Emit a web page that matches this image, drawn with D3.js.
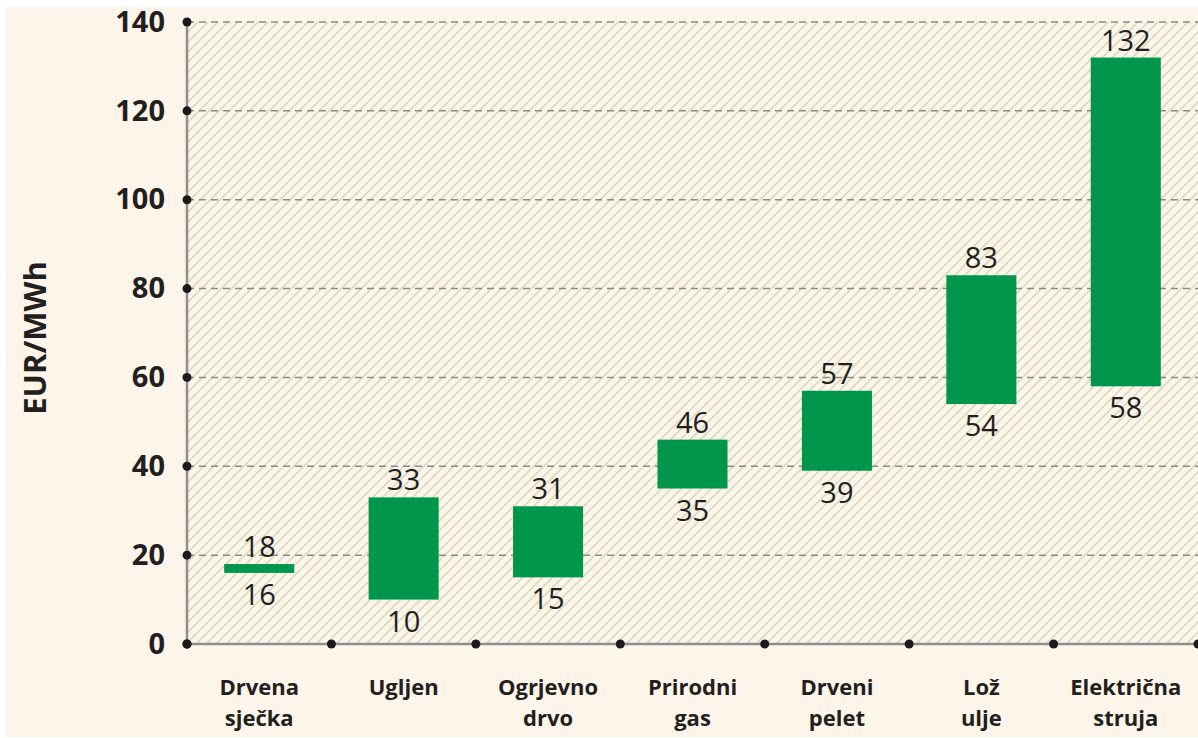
<!DOCTYPE html>
<html><head><meta charset="utf-8">
<script src="https://cdn.jsdelivr.net/npm/d3@7"></script>
<style>
html,body{margin:0;padding:0;background:#fff;}
svg{display:block;}
text{font-family:"Open Sans","Liberation Sans",Arial,sans-serif;}
</style></head>
<body>
<svg id="chart" width="1198" height="738"></svg>
<script>
const categories = [["Drvena","sječka"],["Ugljen"],["Ogrjevno","drvo"],["Prirodni","gas"],["Drveni","pelet"],["Lož","ulje"],["Električna","struja"]];
const lowValues  = [16, 10, 15, 35, 39, 54, 58];
const highValues = [18, 33, 31, 46, 57, 83, 132];
const yTicks = [0, 20, 40, 60, 80, 100, 120, 140];
const yTitle = "EUR/MWh";

const svg = d3.select("#chart");
const W = 1198, H = 738;
const L = 187, R = 1198, T = 22, B = 644;

svg.append("rect").attr("x",6).attr("y",7).attr("width",W-6).attr("height",H-8).attr("fill","#fdf5e9");

const defs = svg.append("defs");
const pat = defs.append("pattern").attr("id","hatch").attr("patternUnits","userSpaceOnUse")
  .attr("width",10).attr("height",10);
pat.append("path").attr("d","M0,10 L10,0 M-2,2 L2,-2 M8,12 L12,8")
  .attr("stroke","#d8dbc2").attr("stroke-width",1.7).attr("fill","none");

const keys = categories.map(c => c.join(" "));
const x = d3.scaleBand().domain(keys).range([L, R]).padding(0);
const y = d3.scaleLinear().domain([0, 140]).range([B, T]);

svg.append("rect").attr("x",L).attr("y",y(140)).attr("width",R-L).attr("height",B-y(140)).attr("fill","url(#hatch)");

// gridlines
svg.append("g").selectAll("line").data(yTicks.filter(d=>d>0)).join("line")
  .attr("x1",L).attr("x2",R).attr("y1",d=>y(d)).attr("y2",d=>y(d))
  .attr("stroke","#8a8a86").attr("stroke-width",1.5).attr("stroke-dasharray","7,5");

// axes lines
svg.append("line").attr("x1",L).attr("x2",L).attr("y1",y(140)).attr("y2",B).attr("stroke","#8f8f8f").attr("stroke-width",2.5);
svg.append("line").attr("x1",L).attr("x2",R).attr("y1",B).attr("y2",B).attr("stroke","#8f8f8f").attr("stroke-width",2.5);

// y axis labels
const yAxis = d3.axisLeft(y).tickValues(yTicks).tickSize(0).tickPadding(22);
const gy = svg.append("g").attr("transform",`translate(${L},0)`).call(yAxis);
gy.select(".domain").remove();
gy.selectAll("text").attr("font-size",29).attr("font-weight","bold").attr("fill","#231f20")
  .attr("font-family","'Open Sans','Liberation Sans',Arial,sans-serif");

// y tick dots
svg.append("g").selectAll("circle").data(yTicks).join("circle")
  .attr("cx",L).attr("cy",d=>y(d)).attr("r",4.5).attr("fill","#1a1a1a");

// x boundary dots
const bounds = keys.map(k=>x(k)).concat([R]);
svg.append("g").selectAll("circle").data(bounds).join("circle")
  .attr("cx",d=>d).attr("cy",B).attr("r",4.5).attr("fill","#1a1a1a");

// bars
const bw = x.bandwidth()*0.485;
const data = keys.map((k,i)=>({k, lo:lowValues[i], hi:highValues[i], lines:categories[i]}));
svg.append("g").selectAll("rect").data(data).join("rect")
  .attr("x",d=>x(d.k)+x.bandwidth()/2-bw/2).attr("width",bw)
  .attr("y",d=>y(d.hi)).attr("height",d=>y(d.lo)-y(d.hi))
  .attr("fill","#00974d");

// value labels
const lab = svg.append("g").attr("font-size",29).attr("fill","#231f20").attr("text-anchor","middle");
lab.selectAll("text.hi").data(data).join("text").attr("class","hi")
  .attr("x",d=>x(d.k)+x.bandwidth()/2).attr("y",d=>y(d.hi)-7).text(d=>d.hi);
lab.selectAll("text.lo").data(data).join("text").attr("class","lo")
  .attr("x",d=>x(d.k)+x.bandwidth()/2).attr("y",d=>y(d.lo)+32).text(d=>d.lo);

// category labels
const cg = svg.append("g").attr("font-size",22).attr("font-weight","bold").attr("fill","#231f20").attr("text-anchor","middle");
data.forEach(d=>{
  const cx = x(d.k)+x.bandwidth()/2;
  d.lines.forEach((ln,j)=>{
    cg.append("text").attr("x",cx).attr("y",695 + j*30.5).text(ln);
  });
});

// y title
svg.append("text").attr("transform",`translate(46,${(y(0)+y(140))/2+5}) rotate(-90)`)
  .attr("text-anchor","middle").attr("font-size",31).attr("font-weight","bold").attr("fill","#231f20")
  .text(yTitle);
</script>
</body></html>
